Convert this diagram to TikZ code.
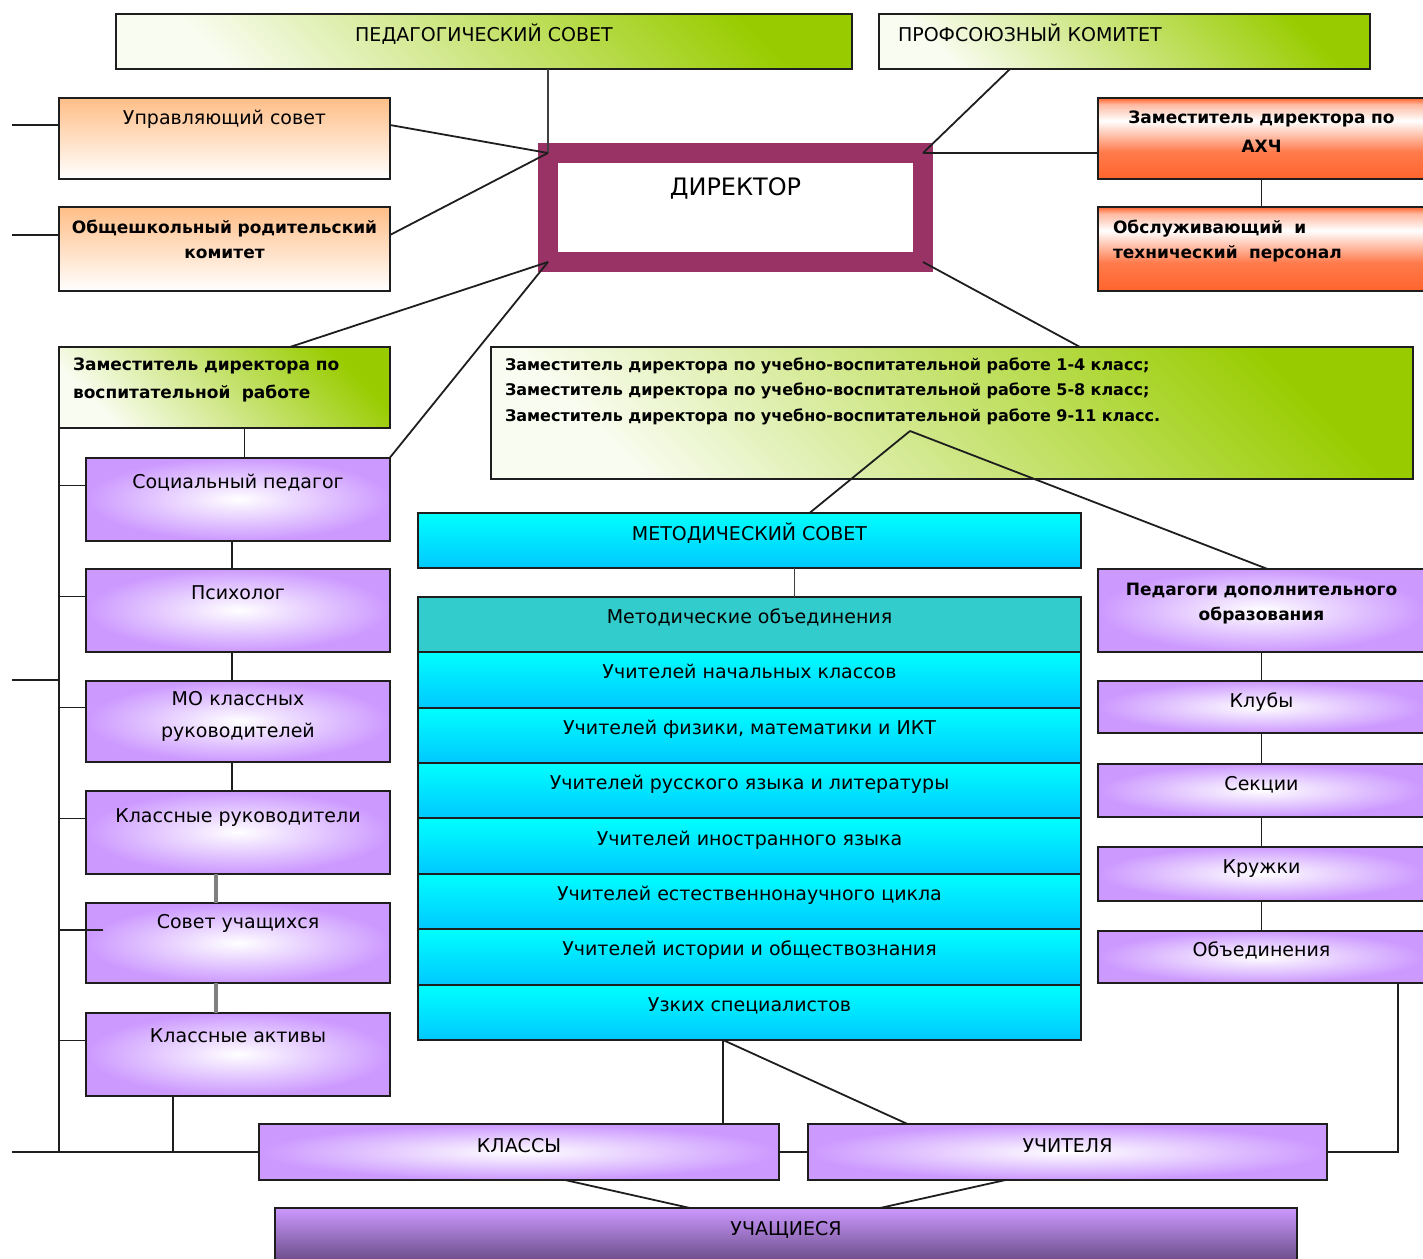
\documentclass[tikz,border=0pt]{standalone}
\usepackage{fontspec}
\setmainfont{DejaVu Sans}
\usepackage{xcolor}
\usepackage{tikz}
\usetikzlibrary{positioning}
\definecolor{zelen}{RGB}{153,204,0}
\definecolor{persik}{RGB}{255,190,135}
\definecolor{krasn}{RGB}{255,100,45}
\definecolor{fiolet}{RGB}{204,153,255}
\definecolor{fioltem}{RGB}{105,75,135}
\definecolor{goluboy}{RGB}{0,200,255}
\definecolor{biruza}{RGB}{51,204,204}
\definecolor{bordo}{RGB}{153,51,102}
\definecolor{ramka}{RGB}{30,30,30}
\pgfdeclareverticalshading{oranzh}{100bp}{color(0bp)=(krasn); color(25bp)=(krasn); color(42bp)=(krasn!85!white); color(61bp)=(white); color(71bp)=(krasn!45!white); color(75bp)=(krasn); color(100bp)=(krasn)}
\tikzstyle{kotak} = [rectangle, draw=ramka, line width=2pt, inner sep=0pt, outer sep=0pt]
\tikzstyle{zelenyj} = [kotak, top color=zelen, bottom color=zelen!6, shading angle=-45]
\tikzstyle{persikovyj} = [kotak, top color=persik, bottom color=white]
\tikzstyle{oranzhevyj} = [kotak, shading=oranzh]
\tikzstyle{fioletovyj} = [kotak, inner color=white, outer color=fiolet]
\tikzstyle{goluboj} = [kotak, top color=cyan, bottom color=goluboy]
\tikzstyle{uchenik} = [kotak, top color=fiolet, bottom color=fioltem]
\tikzstyle{melkij} = [font=\bfseries\fontsize{17}{25}\selectfont]
\tikzstyle{line} = [draw=ramka, line width=1.8pt]
\tikzstyle{seryj} = [draw=gray, line width=4pt]
\tikzset{podnyat/.style={text height=0pt, text depth=#1}}

\begin{document}
\begin{tikzpicture}[x=1pt, y=-1pt, every node/.style={font=\fontsize{19}{23}\selectfont}]
\useasboundingbox (0,0) rectangle (1423,1258);

\node [zelenyj, minimum width=736pt, minimum height=55pt, podnyat=0pt] (ped) at (484,41.5) {ПЕДАГОГИЧЕСКИЙ СОВЕТ};
\node [zelenyj, minimum width=491pt, minimum height=55pt, inner xsep=19pt, text width=453pt, align=left, podnyat=0pt] (prof) at (1124.5,41.5) {ПРОФСОЮЗНЫЙ КОМИТЕТ};

\node [persikovyj, minimum width=331pt, minimum height=81pt, podnyat=29pt] (upr) at (224.5,138.5) {Управляющий совет};
\node [persikovyj, melkij, minimum width=331pt, minimum height=84pt, text width=321pt, align=center, podnyat=32pt] (obs) at (224.5,249) {Общешкольный родительский\\комитет};

\node [kotak, draw=bordo, line width=20pt, fill=white, minimum width=375pt, minimum height=109pt, font=\fontsize{24}{28}\selectfont, podnyat=23.5pt] (dir) at (735.5,207.5) {ДИРЕКТОР};

\node [oranzhevyj, minimum width=327pt, minimum height=81pt, text width=317pt, align=center, podnyat=31pt, font=\bfseries\fontsize{17}{29}\selectfont] (zah) at (1261.5,138.5) {Заместитель директора по\\АХЧ};
\node [oranzhevyj, melkij, minimum width=327pt, minimum height=84pt, inner xsep=15pt, text width=297pt, align=left, podnyat=32pt] (obsl) at (1261.5,249) {Обслуживающий\ \ и\\технический\ \ персонал};

\node [zelenyj, minimum width=331pt, minimum height=81pt, inner xsep=14pt, text width=303pt, align=left, podnyat=35pt, font=\bfseries\fontsize{17}{28}\selectfont] (zvr) at (224.5,387.5) {Заместитель директора по\\воспитательной\ \ работе};
\node [zelenyj, minimum width=922pt, minimum height=132pt, inner xsep=14pt, text width=894pt, align=left, podnyat=86pt, font=\bfseries\fontsize{16}{25.5}\selectfont] (uvr) at (952,413) {Заместитель директора по учебно-воспитательной работе 1-4 класс;\\Заместитель директора по учебно-воспитательной работе 5-8 класс;\\Заместитель директора по учебно-воспитательной работе 9-11 класс.};

\node [fioletovyj, minimum width=304pt, minimum height=83pt, podnyat=22pt] (soc) at (238,499) {Социальный педагог};
\node [fioletovyj, minimum width=304pt, minimum height=83pt, podnyat=21pt, below of=soc, node distance=111pt] (psy) {Психолог};
\node [fioletovyj, minimum width=304pt, minimum height=81pt, text width=294pt, align=center, podnyat=31pt, font=\fontsize{19}{32}\selectfont, below of=psy, node distance=111pt] (mo) {МО классных\\руководителей};
\node [fioletovyj, minimum width=304pt, minimum height=83pt, podnyat=19pt, below of=mo, node distance=111pt] (kr) {Классные руководители};
\node [fioletovyj, minimum width=304pt, minimum height=80pt, podnyat=30pt, below of=kr, node distance=111pt] (sov) {Совет учащихся};
\node [fioletovyj, minimum width=304pt, minimum height=83pt, podnyat=23pt, below of=sov, node distance=111pt] (akt) {Классные активы};

\node [goluboj, minimum width=663pt, minimum height=55pt, podnyat=0pt] (mets) at (749.5,540.5) {МЕТОДИЧЕСКИЙ СОВЕТ};
\node [kotak, fill=biruza, minimum width=663pt, minimum height=55.4pt, podnyat=2pt] (moh) at (749.5,624.5) {Методические объединения};
\node [goluboj, minimum width=663pt, minimum height=55.4pt, podnyat=2pt, below of=moh, node distance=55.4pt] (nach) {Учителей начальных классов};
\node [goluboj, minimum width=663pt, minimum height=55.4pt, podnyat=2pt, below of=nach, node distance=55.4pt] (fiz) {Учителей физики, математики и ИКТ};
\node [goluboj, minimum width=663pt, minimum height=55.4pt, podnyat=2pt, below of=fiz, node distance=55.4pt] (rus) {Учителей русского языка и литературы};
\node [goluboj, minimum width=663pt, minimum height=55.4pt, podnyat=2pt, below of=rus, node distance=55.4pt] (inos) {Учителей иностранного языка};
\node [goluboj, minimum width=663pt, minimum height=55.4pt, podnyat=2pt, below of=inos, node distance=55.4pt] (est) {Учителей естественнонаучного цикла};
\node [goluboj, minimum width=663pt, minimum height=55.4pt, podnyat=2pt, below of=est, node distance=55.4pt] (ist) {Учителей истории и обществознания};
\node [goluboj, minimum width=663pt, minimum height=55.4pt, podnyat=2pt, below of=ist, node distance=55.4pt] (uzk) {Узких специалистов};

\node [fioletovyj, melkij, minimum width=327pt, minimum height=83pt, text width=317pt, align=center, podnyat=31pt] (pdo) at (1261.5,610.5) {Педагоги дополнительного\\образования};
\node [fioletovyj, minimum width=327pt, minimum height=52pt, podnyat=0pt, below of=pdo, node distance=96.5pt] (klb) {Клубы};
\node [fioletovyj, minimum width=327pt, minimum height=53pt, podnyat=0pt, below of=klb, node distance=83.3pt] (sek) {Секции};
\node [fioletovyj, minimum width=327pt, minimum height=54pt, podnyat=0pt, below of=sek, node distance=83.3pt] (krz) {Кружки};
\node [fioletovyj, minimum width=327pt, minimum height=52pt, podnyat=0pt, below of=krz, node distance=83.3pt] (obj) {Объединения};

\node [fioletovyj, minimum width=520pt, minimum height=56pt, podnyat=0pt] (kl) at (519,1152) {КЛАССЫ};
\node [fioletovyj, minimum width=519pt, minimum height=56pt, podnyat=0pt] (uch) at (1067.5,1152) {УЧИТЕЛЯ};
\node [uchenik, minimum width=1022pt, minimum height=54pt, podnyat=0pt] (stu) at (786,1235) {УЧАЩИЕСЯ};

\coordinate (uvrp) at (910,431);
\coordinate (mob) at ([xshift=-26.5pt]uzk.south);
\coordinate (k1) at (12,125);
\coordinate (k2) at (12,235);
\coordinate (k3) at (12,680);
\coordinate (k4) at (12,1152);

\path[line, draw=darkgray] (dir.north west |- ped.south) -- (dir.north west);
\path[line] ([xshift=-114.5pt]prof.south) -- (dir.north east);
\path[line] ([yshift=13.5pt]upr.east) -- (dir.north west);
\path[line] ([yshift=14pt]obs.east) -- (dir.north west);
\path[line] (dir.north east) -- (dir.north east -| zah.west);
\path[line] (zah.south) -- (obsl.north);
\path[line] (dir.south west) -- ([xshift=65.5pt]zvr.north);
\path[line] (dir.south west) -- (soc.north east);
\path[line] (dir.south east) -- ([xshift=128pt]uvr.north);

\path[line] (uvrp) -- ([xshift=60pt]mets.north);
\path[line] (uvrp) -- ([xshift=6pt]pdo.north);
\path[line, draw=darkgray] ([xshift=45pt]mets.south) -- ([xshift=45pt]moh.north);
\foreach \a/\b in {pdo/klb, klb/sek, sek/krz, krz/obj}
  \path[line] (\a.south) -- (\b.north);

\path[line] (mob) -- (mob |- kl.north);
\path[line] (mob) -- ([xshift=-160pt]uch.north);
\path[line] ([xshift=46pt]kl.south) -- ([xshift=-96pt]stu.north);
\path[line] ([xshift=-62pt]uch.south) -- ([xshift=94pt]stu.north);
\path[line] (kl.east) -- (uch.west);
\path[line] (uch.east) -| ([xshift=136.5pt]obj.south);

\path[line] ([xshift=20pt]zvr.south) -- ([xshift=20pt]zvr.south |- soc.north);
\foreach \a/\b in {soc/psy, psy/mo, mo/kr}
  \path[line] ([xshift=-6pt]\a.south) -- ([xshift=-6pt]\b.north);
\foreach \a/\b in {kr/sov, sov/akt}
  \path[seryj] ([xshift=-22pt]\a.south) -- ([xshift=-22pt]\b.north);

\path[line] (zvr.south west) -- (zvr.south west |- kl.west);
\foreach \n in {soc, psy, mo, kr, akt}
  \path[line] ([yshift=13.5pt]\n.west) -- ([yshift=13.5pt]\n.west -| zvr.west);
\path[line] ([xshift=17pt, yshift=13pt]sov.west) -- ([yshift=13pt]sov.west -| zvr.west);
\path[line] (k1) -- (k1 -| upr.west);
\path[line] (k2) -- (k2 -| obs.west);
\path[line] (k3) -- (k3 -| zvr.west);
\path[line] (k4) -- (kl.west);
\path[line] ([xshift=-65pt]akt.south) -- ([xshift=-65pt]akt.south |- kl.west);
\end{tikzpicture}
\end{document}
